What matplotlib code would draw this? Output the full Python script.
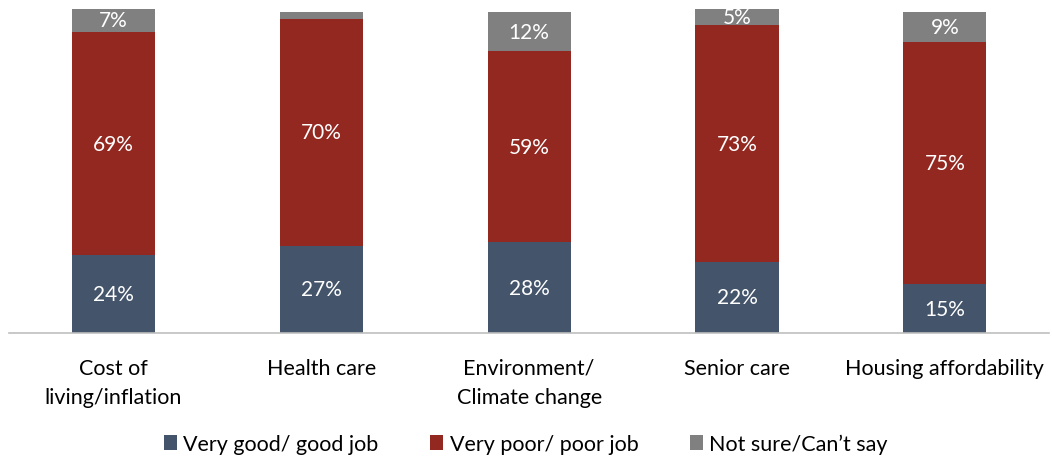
import matplotlib.pyplot as plt
import numpy as np

categories = ['Cost of\nliving/inflation', 'Health care', 'Environment/\nClimate change',
              'Senior care', 'Housing affordability']
good = [24, 27, 28, 22, 15]
poor = [69, 70, 59, 73, 75]
not_sure = [7, 2, 12, 5, 9]
series_names = ['Very good/ good job', 'Very poor/ poor job', 'Not sure/Can\u2019t say']
colors = ['#44546A', '#922820', '#808080']

plt.rcParams['font.family'] = ['Lato', 'DejaVu Sans']

fig = plt.figure(figsize=(10.52, 4.6), dpi=100)
ax = fig.add_axes([0.009, 0.274, 0.988, 0.704])

x = np.arange(len(categories))
bottom = np.zeros(len(categories))
for vals, name, col in zip([good, poor, not_sure], series_names, colors):
    bars = ax.bar(x, vals, 0.40, bottom=bottom, color=col, label=name)
    for b, v, btm in zip(bars, vals, bottom):
        if v >= 5:
            ax.text(b.get_x() + b.get_width() / 2, btm + v / 2, f'{v}%',
                    ha='center', va='center', color='white', fontsize=15)
    bottom += np.array(vals)

ax.set_xlim(-0.5, len(categories) - 0.5)
ax.set_ylim(0, 100)
ax.set_yticks([])
ax.set_xticks(x)
ax.set_xticklabels(categories, fontsize=15.5, linespacing=1.55)
ax.tick_params(axis='x', length=0, pad=18)
for s in ['top', 'right', 'left']:
    ax.spines[s].set_visible(False)
ax.spines['bottom'].set_color('#BFBFBF')
ax.spines['bottom'].set_linewidth(1.2)

fig.legend(loc='lower center', bbox_to_anchor=(0.5, -0.032), ncol=3, frameon=False,
           fontsize=15.5, handlelength=0.6, handleheight=0.7, handletextpad=0.3,
           columnspacing=2.4)

fig.savefig('out.png', dpi=100)
